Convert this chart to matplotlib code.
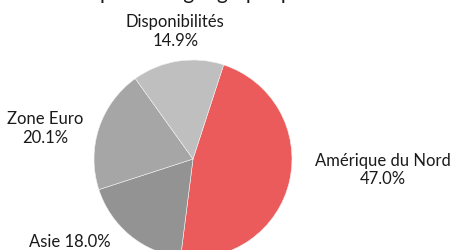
import matplotlib
matplotlib.use("Agg")
import matplotlib.pyplot as plt

# data
regions = ["Amérique du Nord", "Asie", "Zone Euro", "Disponibilités"]
shares = [47.0, 18.0, 20.1, 14.9]
colors = ["#EB5B5B", "#939393", "#A6A6A6", "#BFBFBF"]

plt.rcParams['font.family'] = ['Lato', 'DejaVu Sans']

fig = plt.figure(figsize=(4.53, 2.51), dpi=100)
ax = fig.add_axes([0, 0, 1, 1])

ax.pie(
    shares,
    colors=colors,
    startangle=72,
    counterclock=False,
    radius=1.0,
    wedgeprops=dict(edgecolor='#f2f2f2', linewidth=0.4),
)

# pie centre sits at (193, 160) px, radius ~99 px
ax.set_xlim(-193 / 99, (453 - 193) / 99)
ax.set_ylim(-(251 - 160) / 99, 160 / 99)
ax.set_aspect('auto')
ax.axis('off')

# label placement (data units)
label_pos = [(1.92, -0.10), (-1.24, -0.83), (-1.49, 0.32), (-0.18, 1.30)]
for name, val, (x, y) in zip(regions, shares, label_pos):
    if name == "Asie":
        txt = f"{name} {val:.1f}%"
    else:
        txt = f"{name}\n{val:.1f}%"
    ax.text(x, y, txt, ha='center', va='center', fontsize=12,
            color='#1a1a1a', linespacing=1.2)

# title cut off at the top
fig.text(0.425, 1.005, "Répartition géographique", ha='center',
         va='baseline', fontsize=15, color='#1a1a1a')

fig.savefig("out.png", dpi=100)
